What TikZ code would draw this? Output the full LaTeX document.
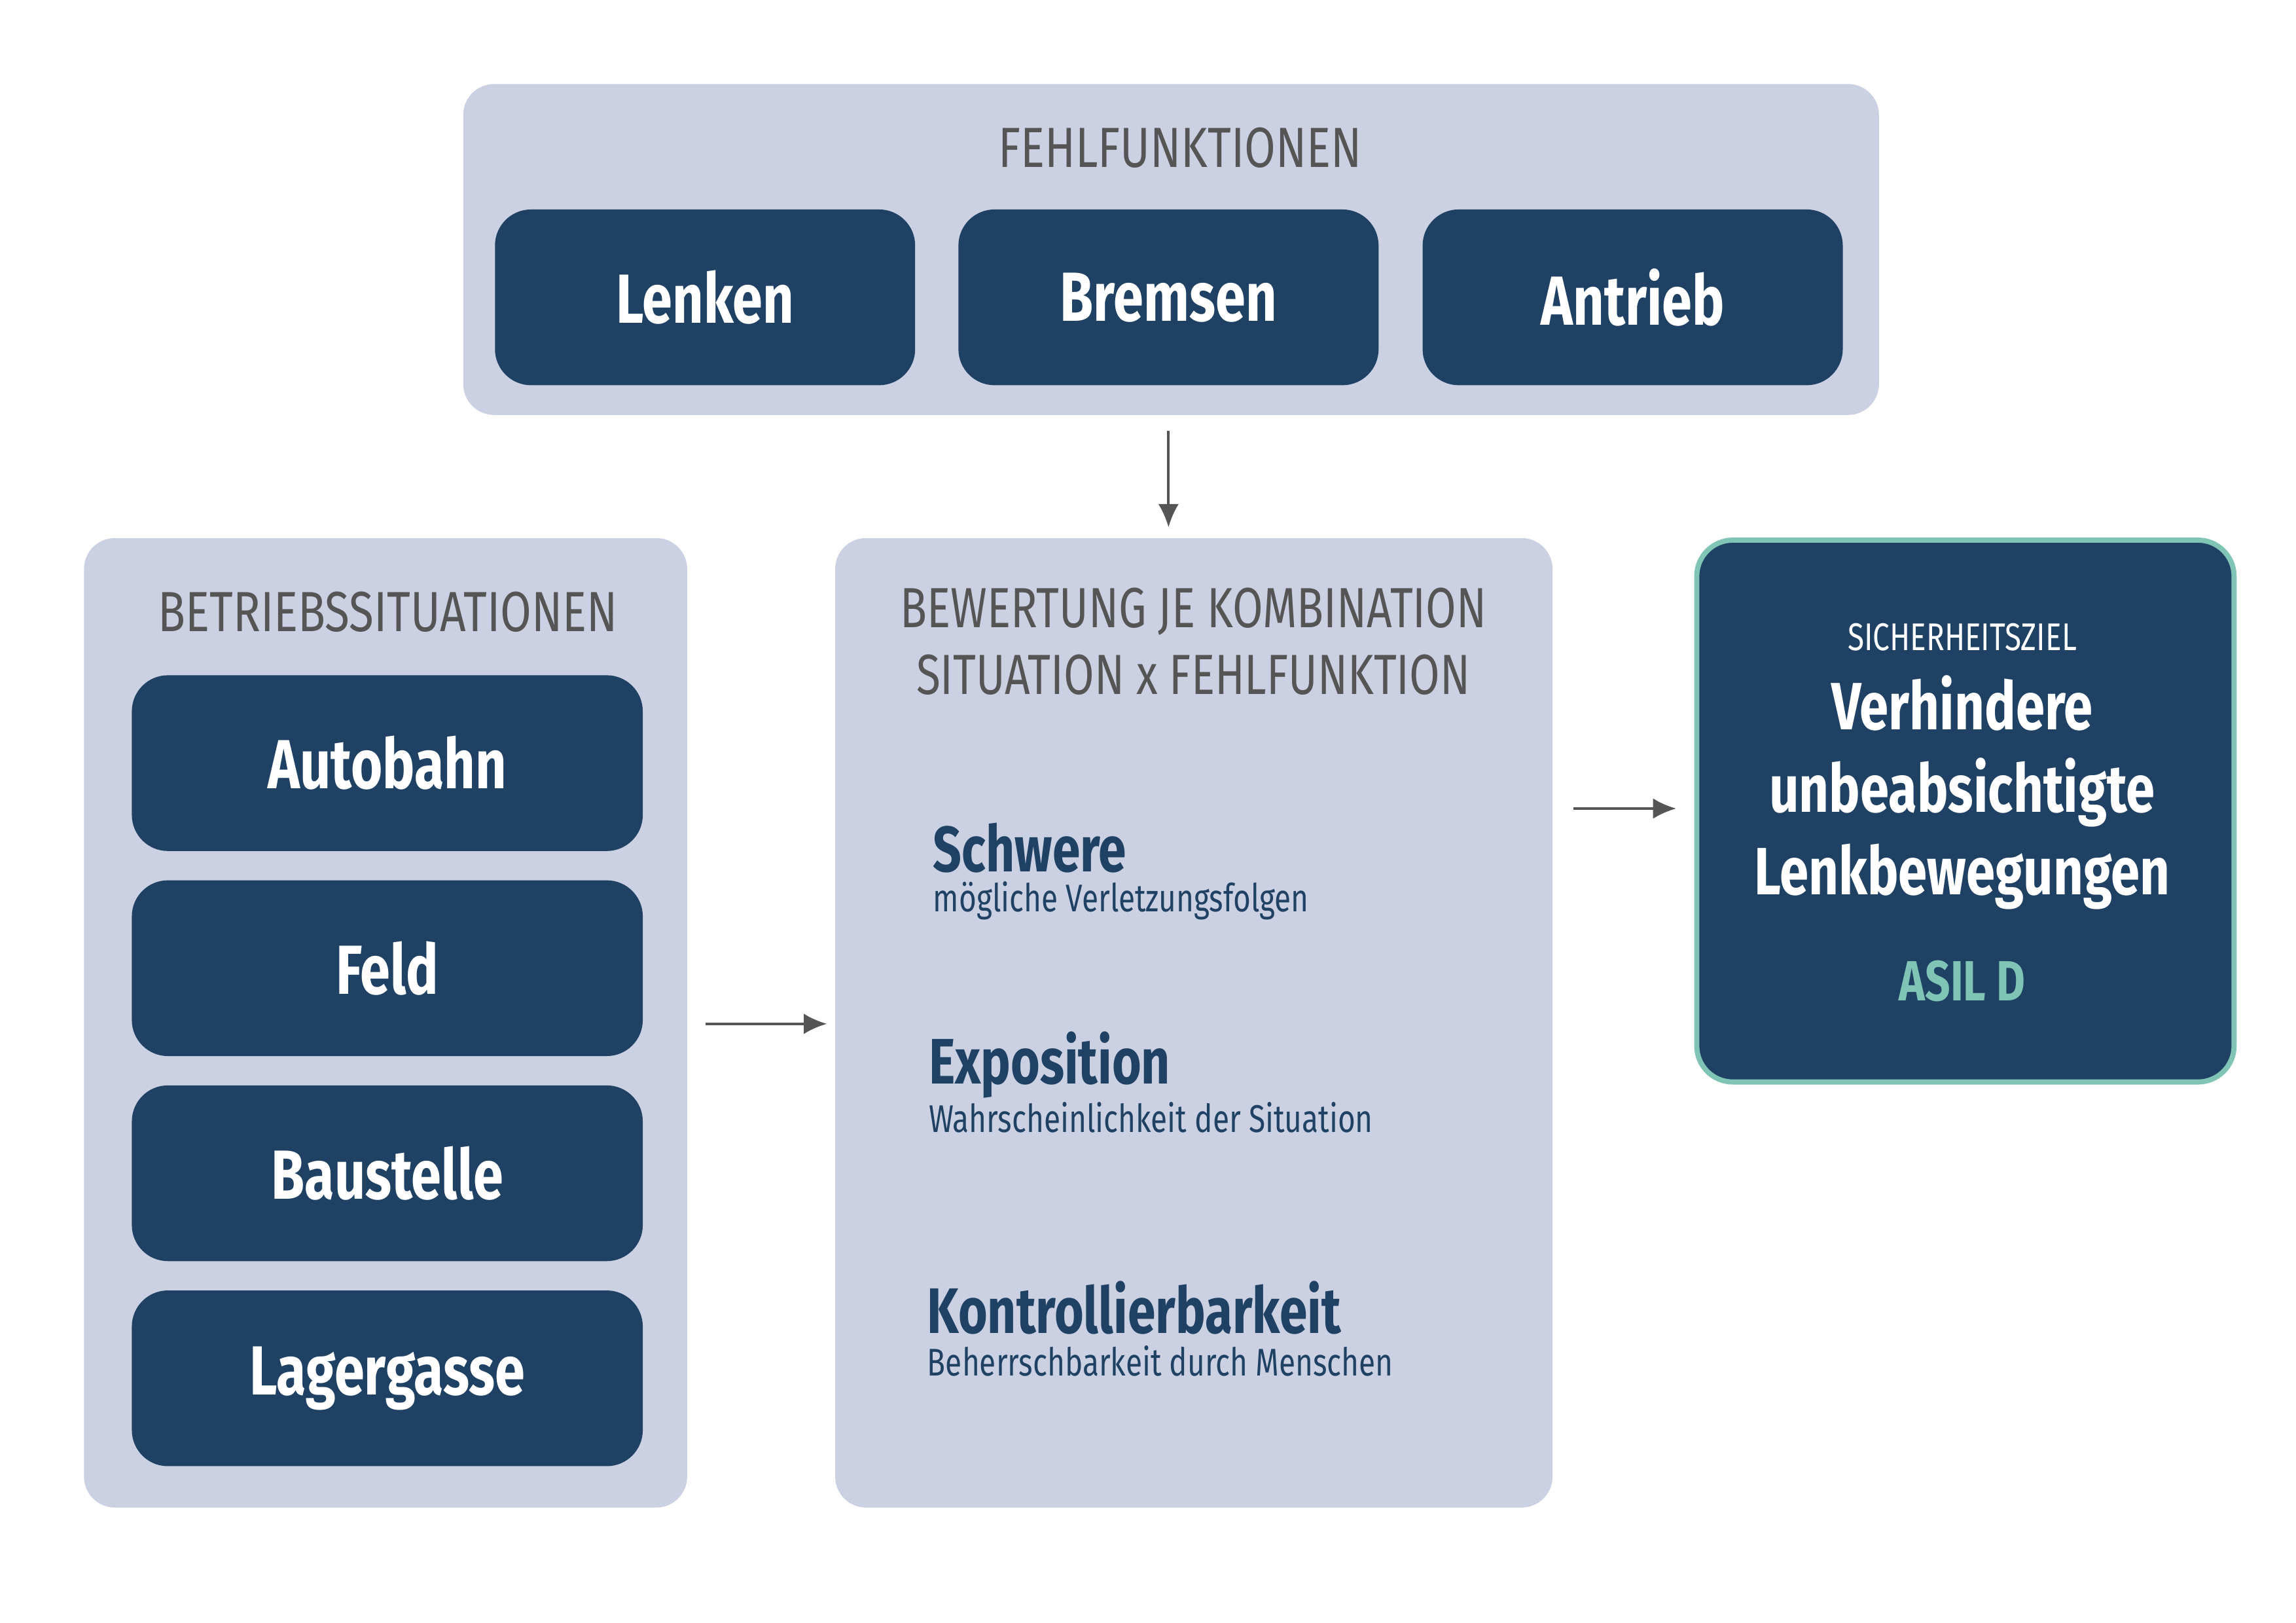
\documentclass[tikz,border=0pt]{standalone}
\usepackage{fontspec}
\setmainfont{Fira Sans}[FakeStretch=0.78]
\usetikzlibrary{positioning,arrows.meta}
\definecolor{panel}{HTML}{CBD0E2}
\definecolor{navy}{HTML}{1F4164}
\definecolor{teal}{HTML}{7FC4B4}
\definecolor{greytxt}{HTML}{555555}
\tikzset{
  panel/.style={fill=panel, rounded corners=12pt, anchor=north west, inner sep=0pt},
  item/.style={fill=navy, rounded corners=14pt, text=white, font=\fontsize{27}{30}\selectfont\bfseries, minimum width=5.74cm, minimum height=2.4cm, inner sep=0pt},
  title/.style={text=greytxt, font=\fontsize{22}{26}\selectfont\addfontfeature{FakeStretch=0.8}, align=center},
  crit/.style={text=navy, font=\fontsize{25}{28}\selectfont\bfseries, anchor=west, inner sep=0pt},
  sub/.style={text=navy, font=\fontsize{15}{18}\selectfont, anchor=west, inner sep=0pt},
  flow/.style={-{Latex[length=9pt,width=8pt]}, greytxt, line width=1pt}
}
\begin{document}
\begin{tikzpicture}[x=0.02cm, y=-0.02cm]
\useasboundingbox (0,0) rectangle (1568,1108);

% oben: Fehlfunktionen
\node[panel, minimum width=19.34cm, minimum height=4.52cm] (fehl) at (316,57) {};
\node[title] (fehlT) at (806,101) {FEHLFUNKTIONEN};
\node[item] (lenken) at (481.5,203) {Lenken};
\node[item] (bremsen) at (798,203) {Bremsen};
\node[item] (antrieb) at (1115,203) {Antrieb};

% links: Betriebssituationen
\node[panel, minimum width=8.24cm, minimum height=13.24cm] (betrieb) at (57,367) {};
\node[title] (betriebT) at (265,418) {BETRIEBSSITUATIONEN};
\node[item, minimum width=6.98cm] (autobahn) at (264.5,521) {Autobahn};
\node[item, minimum width=6.98cm] (feld) at (264.5,661) {Feld};
\node[item, minimum width=6.98cm] (baustelle) at (264.5,801) {Baustelle};
\node[item, minimum width=6.98cm] (lager) at (264.5,941) {Lagergasse};

% mitte: Bewertung
\node[panel, minimum width=9.8cm, minimum height=13.24cm] (bewert) at (570,367) {};
\node[title, font=\fontsize{22}{26}\selectfont, text height=] (bewertT) at (815,438) {BEWERTUNG JE KOMBINATION\\SITUATION x FEHLFUNKTION};
\node[crit] (schwere) at (637,579) {Schwere};
\node[sub] (schwereS) at (637,615) {mögliche Verletzungsfolgen};
\node[crit] (expo) at (634,727) {Exposition};
\node[sub] (expoS) at (634,763) {Wahrscheinlichkeit der Situation};
\node[crit] (kontr) at (633,893) {Kontrollierbarkeit};
\node[sub] (kontrS) at (633,929) {Beherrschbarkeit durch Menschen};

% rechts: Sicherheitsziel
\node[fill=navy, draw=teal, line width=2pt, rounded corners=14pt, anchor=north west, minimum width=7.34cm, minimum height=7.4cm, inner sep=0pt] (ziel) at (1157,367) {};
\node[text=white, font=\fontsize{15}{18}\selectfont] (zielT) at (1340,435) {SICHERHEITSZIEL};
\node[text=white, font=\fontsize{26}{32}\selectfont\bfseries, align=center] (zielText) at (1340,541) {Verhindere\\unbeabsichtigte\\Lenkbewegungen};
\node[text=teal, font=\fontsize{22}{26}\selectfont\bfseries] (asil) at (1340,670) {ASIL D};

% Pfeile
\draw[flow, shorten <=6pt, shorten >=4pt] (fehl.south -| bremsen) -- (bewert.north -| bremsen);
\draw[flow, shorten <=7pt, shorten >=3pt] (betrieb.east |- 0,699) -- (bewert.west |- 0,699);
\draw[flow, shorten <=8pt, shorten >=7pt] (bewert.east |- 0,552) -- (ziel.west |- 0,552);
\end{tikzpicture}
\end{document}
